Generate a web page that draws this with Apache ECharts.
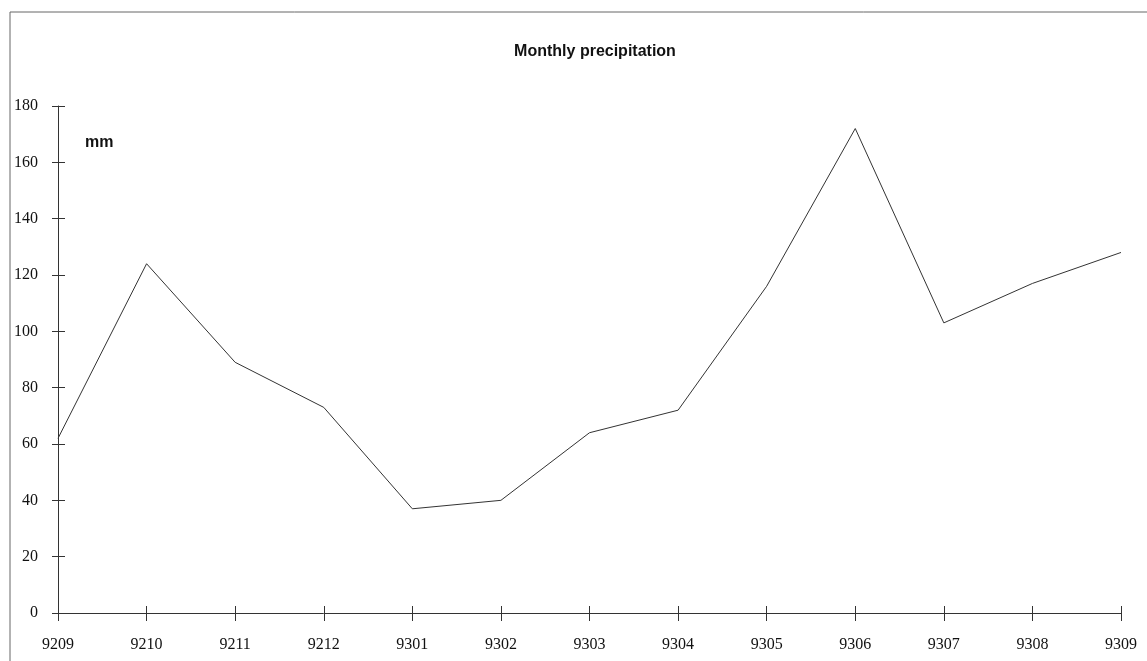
<!DOCTYPE html>
<html>
<head>
<meta charset="utf-8">
<script src="https://cdn.jsdelivr.net/npm/echarts@6/dist/echarts.min.js"></script>
<style>html,body{margin:0;padding:0;background:#fff}#c{width:1147px;height:661px}</style>
</head>
<body>
<div id="c"></div>
<script>
const months = ['9209','9210','9211','9212','9301','9302','9303','9304','9305','9306','9307','9308','9309'];
const precipitation = [62,124,89,73,37,40,64,72,116,172,103,117,128];
const titleText = 'Monthly precipitation';
const unitText = 'mm';

const chart = echarts.init(document.getElementById('c'));
const serif = 'Liberation Serif';
const axisColor = '#333';
chart.setOption({
  backgroundColor: '#fff',
  animation: false,
  title: {
    text: titleText, left: 590, top: 39, textAlign: 'center',
    textStyle: {fontFamily: 'Liberation Sans', fontWeight: 'bold', fontSize: 16, color: '#111'}
  },
  graphic: [
    {type: 'rect', shape: {x: 10, y: 12, width: 1160, height: 700}, style: {fill: 'none', stroke: '#666', lineWidth: 1}},
    {type: 'text', left: 85, top: 135, style: {text: unitText, font: 'bold 16px "Liberation Sans"', fill: '#111'}}
  ],
  grid: {left: 58, right: 26, top: 106, bottom: 48},
  xAxis: [{
    type: 'category', data: months, boundaryGap: false, position: 'bottom',
    axisLine: {lineStyle: {color: axisColor, width: 1}},
    axisTick: {show: true, length: 8, lineStyle: {color: axisColor}},
    axisLabel: {fontFamily: serif, fontSize: 16, color: '#111', margin: 24}
  }, {
    type: 'category', data: months, boundaryGap: false, position: 'bottom', offset: 0,
    axisLine: {show: false},
    axisTick: {show: true, inside: true, length: 7, lineStyle: {color: axisColor}},
    axisLabel: {show: false}
  }],
  yAxis: [{
    type: 'value', min: 0, max: 180, interval: 20,
    axisLine: {show: true, lineStyle: {color: axisColor, width: 1}},
    axisTick: {show: true, length: 6, lineStyle: {color: axisColor}},
    splitLine: {show: false},
    axisLabel: {fontFamily: serif, fontSize: 16, color: '#111', margin: 20}
  }, {
    type: 'value', min: 0, max: 180, interval: 20, position: 'left', offset: 0,
    axisLine: {show: false},
    axisTick: {show: true, inside: true, length: 7, lineStyle: {color: axisColor}},
    splitLine: {show: false},
    axisLabel: {show: false}
  }],
  series: [{
    type: 'line', data: precipitation, xAxisIndex: 0, yAxisIndex: 0,
    symbol: 'none', lineStyle: {color: '#333', width: 1}
  }]
});
</script>
</body>
</html>
